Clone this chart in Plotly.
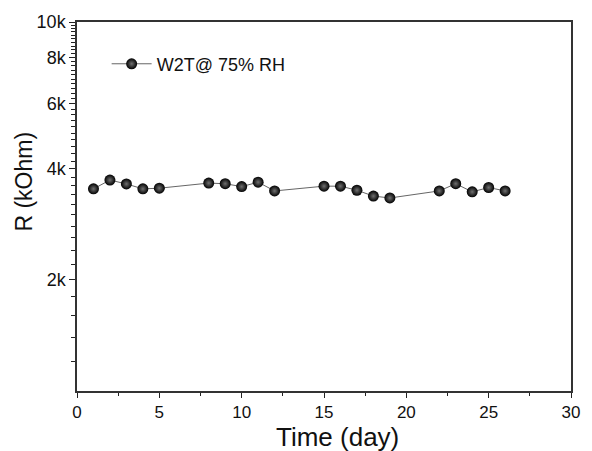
import plotly.graph_objects as go

days = [1, 2, 3, 4, 5, 8, 9, 10, 11, 12, 15, 16, 17, 18, 19, 22, 23, 24, 25, 26]
resistance = [3530, 3730, 3640, 3530, 3545, 3660, 3645, 3580, 3680, 3485,
              3590, 3590, 3500, 3375, 3335, 3485, 3645, 3465, 3560, 3485]
series_name = "W2T@ 75% RH"
x_title = "Time (day)"
y_title = "R (kOhm)"

y_tick_vals = [2000, 4000, 6000, 8000, 10000]
y_tick_text = ["2k", "4k", "6k", "8k", "10k"]
y_minor_vals = [v for v in range(1200, 10000, 200) if v not in y_tick_vals]
x_tick_vals = [0, 5, 10, 15, 20, 25, 30]

FONT = "Liberation Sans, Arial, sans-serif"

fig = go.Figure()
fig.add_trace(go.Scatter(
    x=days, y=resistance, mode="lines+markers", name=series_name,
    line=dict(color="#666666", width=1),
    marker=dict(size=11, color="#000000", symbol="circle",
                gradient=dict(type="radial", color="#707070"),
                line=dict(width=0)),
))

fig.update_layout(
    width=592, height=451,
    margin=dict(l=77, r=21, t=22, b=60),
    paper_bgcolor="white", plot_bgcolor="white",
    font=dict(family=FONT, color="#111111", size=18),
    showlegend=True,
    legend=dict(x=0.06, y=0.886, xanchor="left", yanchor="middle",
                bgcolor="rgba(0,0,0,0)", font=dict(size=18), itemwidth=40),
    xaxis=dict(
        range=[0, 30], tickmode="array", tickvals=x_tick_vals,
        ticks="outside", ticklen=5, tickwidth=1.3, tickcolor="#222",
        showline=True, linecolor="#333", linewidth=1.5, mirror=True,
        showgrid=False, zeroline=False,
        tickfont=dict(size=17),
        minor=dict(dtick=2.5, ticks="outside", ticklen=3, tickcolor="#222", tickwidth=1.2),
    ),
    yaxis=dict(
        type="log", range=[3, 4], tickmode="array",
        tickvals=y_tick_vals, ticktext=y_tick_text,
        ticks="outside", ticklen=6, tickwidth=1.3, tickcolor="#222",
        showline=True, linecolor="#333", linewidth=1.5, mirror=True,
        showgrid=False, zeroline=False,
        tickfont=dict(size=18),
        minor=dict(tickmode="array", tickvals=y_minor_vals, ticks="outside",
                   ticklen=4, tickcolor="#222", tickwidth=1.2),
    ),
    annotations=[
        dict(text=x_title, xref="paper", yref="paper", x=0.5283, y=-0.124,
             xanchor="center", yanchor="middle", showarrow=False,
             font=dict(size=26)),
        dict(text=y_title, xref="paper", yref="paper", x=-0.107, y=0.568,
             xanchor="center", yanchor="middle", showarrow=False, textangle=-90,
             font=dict(size=23)),
    ],
)

fig.write_html("out.html", config={"displayModeBar": False},
               post_script="document.body.style.margin='0';")
